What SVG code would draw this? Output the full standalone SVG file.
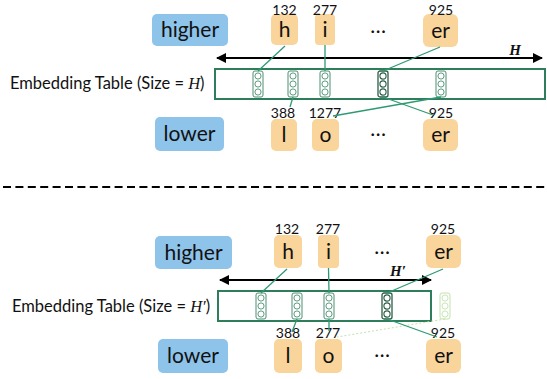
<svg xmlns="http://www.w3.org/2000/svg" width="547" height="379" viewBox="0 0 547 379">
<defs>
<style>
.lbl{fill:#8ec3ea}
.tok{fill:#f9d49b}
.big{font-family:Lato,"Liberation Sans",sans-serif;font-size:21px;fill:#111;text-anchor:middle}
.num{font-family:Lato,"Liberation Sans",sans-serif;font-size:14px;fill:#111;text-anchor:middle}
.emb{font-family:Lato,"Liberation Sans",sans-serif;font-size:16.5px;fill:#111}
.mi{font-family:"Liberation Serif",serif;font-style:italic}
.hl{font-family:"Liberation Serif",serif;font-style:italic;font-weight:bold;font-size:15px;fill:#111;text-anchor:middle}
.tbl{fill:#fff;stroke:#2e7d5b;stroke-width:2}
.con{stroke:#2e9a74;stroke-width:1.3;fill:none}
.arr{stroke:#000;stroke-width:2;marker-start:url(#ah);marker-end:url(#ah)}
</style>
<marker id="ah" viewBox="0 0 10 10" refX="9" refY="5" markerWidth="5.5" markerHeight="5" orient="auto-start-reverse"><path d="M0,0 L10,5 L0,10 z" fill="#000"/></marker>
<g id="cell">
<rect x="0" y="0" width="10" height="26" rx="2" fill="#fff" stroke="#4a8f70" stroke-width="1"/>
<circle cx="5" cy="5" r="3.1" fill="none" stroke="#4a8f70" stroke-width="0.9"/>
<circle cx="5" cy="13" r="3.1" fill="none" stroke="#4a8f70" stroke-width="0.9"/>
<circle cx="5" cy="21" r="3.1" fill="none" stroke="#4a8f70" stroke-width="0.9"/>
</g>
<g id="cellD">
<rect x="0" y="0" width="10" height="26" rx="2" fill="#fff" stroke="#2b5e48" stroke-width="1.3"/>
<circle cx="5" cy="5" r="3.1" fill="none" stroke="#2b5e48" stroke-width="1.1"/>
<circle cx="5" cy="13" r="3.1" fill="none" stroke="#2b5e48" stroke-width="1.1"/>
<circle cx="5" cy="21" r="3.1" fill="none" stroke="#2b5e48" stroke-width="1.1"/>
</g>
<g id="cellF">
<rect x="0" y="0" width="10" height="26" rx="2" fill="#fff" stroke="#c3e2ad" stroke-width="1"/>
<circle cx="5" cy="5" r="3.1" fill="none" stroke="#c3e2ad" stroke-width="0.9"/>
<circle cx="5" cy="13" r="3.1" fill="none" stroke="#c3e2ad" stroke-width="0.9"/>
<circle cx="5" cy="21" r="3.1" fill="none" stroke="#c3e2ad" stroke-width="0.9"/>
</g>
</defs>
<rect width="547" height="379" fill="#fff"/>

<!-- TOP SECTION -->
<g id="table-top">
<text class="emb" x="10" y="89">Embedding Table (Size = <tspan class="mi">H</tspan>)</text>
<rect class="tbl" x="215" y="69" width="330" height="30"/>
<use href="#cell" x="253" y="71"/>
<use href="#cell" x="288" y="71"/>
<use href="#cell" x="320" y="71"/>
<use href="#cellD" x="378" y="71"/>
<use href="#cell" x="436" y="71"/>
</g>
<g id="arrow-top">
<line class="arr" x1="217" y1="58" x2="542" y2="58"/>
<text class="hl" x="515" y="55">H</text>
</g>
<g id="higher-top"><rect class="lbl" x="152" y="14" width="76" height="32" rx="5"/><text class="big" x="190" y="37">higher</text></g>
<g id="h-top"><rect class="tok" x="271" y="14" width="27" height="31" rx="5"/><text class="big" x="284.5" y="37">h</text><text class="num" x="284.5" y="15">132</text></g>
<g id="i-top"><rect class="tok" x="315" y="14" width="20" height="31" rx="4"/><text class="big" x="325" y="37">i</text><text class="num" x="325" y="15">277</text></g>
<g id="dots-top1"><text class="big" x="378" y="33">…</text></g>
<g id="er-top"><rect class="tok" x="423" y="14" width="35" height="33" rx="6"/><text class="big" x="440.5" y="38">er</text><text class="num" x="441" y="15">925</text></g>
<g id="lower-top"><rect class="lbl" x="155" y="117" width="69" height="34" rx="5"/><text class="big" x="189.5" y="141">lower</text></g>
<g id="l-top"><rect class="tok" x="271" y="119" width="26" height="32" rx="5"/><text class="big" x="284" y="142">l</text><text class="num" x="283" y="118">388</text></g>
<g id="o-top"><rect class="tok" x="312" y="119" width="27" height="32" rx="5"/><text class="big" x="325.5" y="142">o</text><text class="num" x="325" y="118">1277</text></g>
<g id="dots-top2"><text class="big" x="378" y="136">…</text></g>
<g id="er2-top"><rect class="tok" x="423" y="119" width="35" height="32" rx="6"/><text class="big" x="440.5" y="142">er</text><text class="num" x="441" y="118">925</text></g>

<g id="connectors-top">
<line class="con" x1="285" y1="46" x2="258" y2="71"/>
<line class="con" x1="325" y1="45" x2="325" y2="71"/>
<line class="con" x1="440" y1="47" x2="383" y2="71"/>
<line class="con" x1="293" y1="97" x2="290" y2="107"/>
<line class="con" x1="441" y1="97" x2="333" y2="116"/>
<line class="con" x1="383" y1="97" x2="433" y2="115"/>
</g>

<line x1="3" y1="187" x2="547" y2="187" stroke="#000" stroke-width="2" stroke-dasharray="8,4.4"/>

<!-- BOTTOM SECTION -->
<g id="table-bot">
<text class="emb" x="12" y="312">Embedding Table (Size = <tspan class="mi">H′</tspan>)</text>
<rect class="tbl" x="218" y="291" width="213" height="30"/>
<use href="#cell" x="256" y="293"/>
<use href="#cell" x="292" y="293"/>
<use href="#cell" x="324" y="293"/>
<use href="#cellD" x="382" y="293"/>
<use href="#cellF" x="440" y="293"/>
</g>
<g id="arrow-bot">
<line class="arr" x1="220" y1="280" x2="431" y2="280"/>
<text class="hl" x="398" y="276">H′</text>
</g>
<g id="higher-bot"><rect class="lbl" x="155" y="236" width="77" height="33" rx="5"/><text class="big" x="193.5" y="260">higher</text></g>
<g id="h-bot"><rect class="tok" x="274" y="235" width="28" height="33" rx="5"/><text class="big" x="288" y="259">h</text><text class="num" x="287" y="234">132</text></g>
<g id="i-bot"><rect class="tok" x="318" y="235" width="21" height="33" rx="4"/><text class="big" x="328.5" y="259">i</text><text class="num" x="328" y="234">277</text></g>
<g id="dots-bot1"><text class="big" x="382" y="254">…</text></g>
<g id="er-bot"><rect class="tok" x="426" y="235" width="35" height="33" rx="6"/><text class="big" x="443.5" y="259">er</text><text class="num" x="443" y="234">925</text></g>
<g id="lower-bot"><rect class="lbl" x="158" y="339" width="70" height="34" rx="5"/><text class="big" x="193" y="363">lower</text></g>
<g id="l-bot"><rect class="tok" x="274" y="339" width="28" height="34" rx="5"/><text class="big" x="288" y="363">l</text><text class="num" x="288" y="338">388</text></g>
<g id="o-bot"><rect class="tok" x="315" y="339" width="27" height="34" rx="5"/><text class="big" x="328.5" y="363">o</text><text class="num" x="328" y="338">277</text></g>
<g id="dots-bot2"><text class="big" x="382" y="357">…</text></g>
<g id="er2-bot"><rect class="tok" x="426" y="339" width="35" height="34" rx="6"/><text class="big" x="443.5" y="363">er</text><text class="num" x="443" y="338">925</text></g>

<g id="connectors-bot">
<line class="con" x1="287" y1="269" x2="261" y2="293"/>
<line class="con" x1="328.5" y1="268" x2="329" y2="293"/>
<line class="con" x1="443" y1="269" x2="387" y2="293"/>
<line class="con" x1="297" y1="319" x2="292" y2="332"/>
<line class="con" x1="329" y1="319" x2="329" y2="331"/>
<line x1="445" y1="319" x2="337" y2="337" stroke="#c3e2ad" stroke-width="1" stroke-dasharray="2,2"/>
<line class="con" x1="387" y1="319" x2="437" y2="337"/>
</g>
</svg>
